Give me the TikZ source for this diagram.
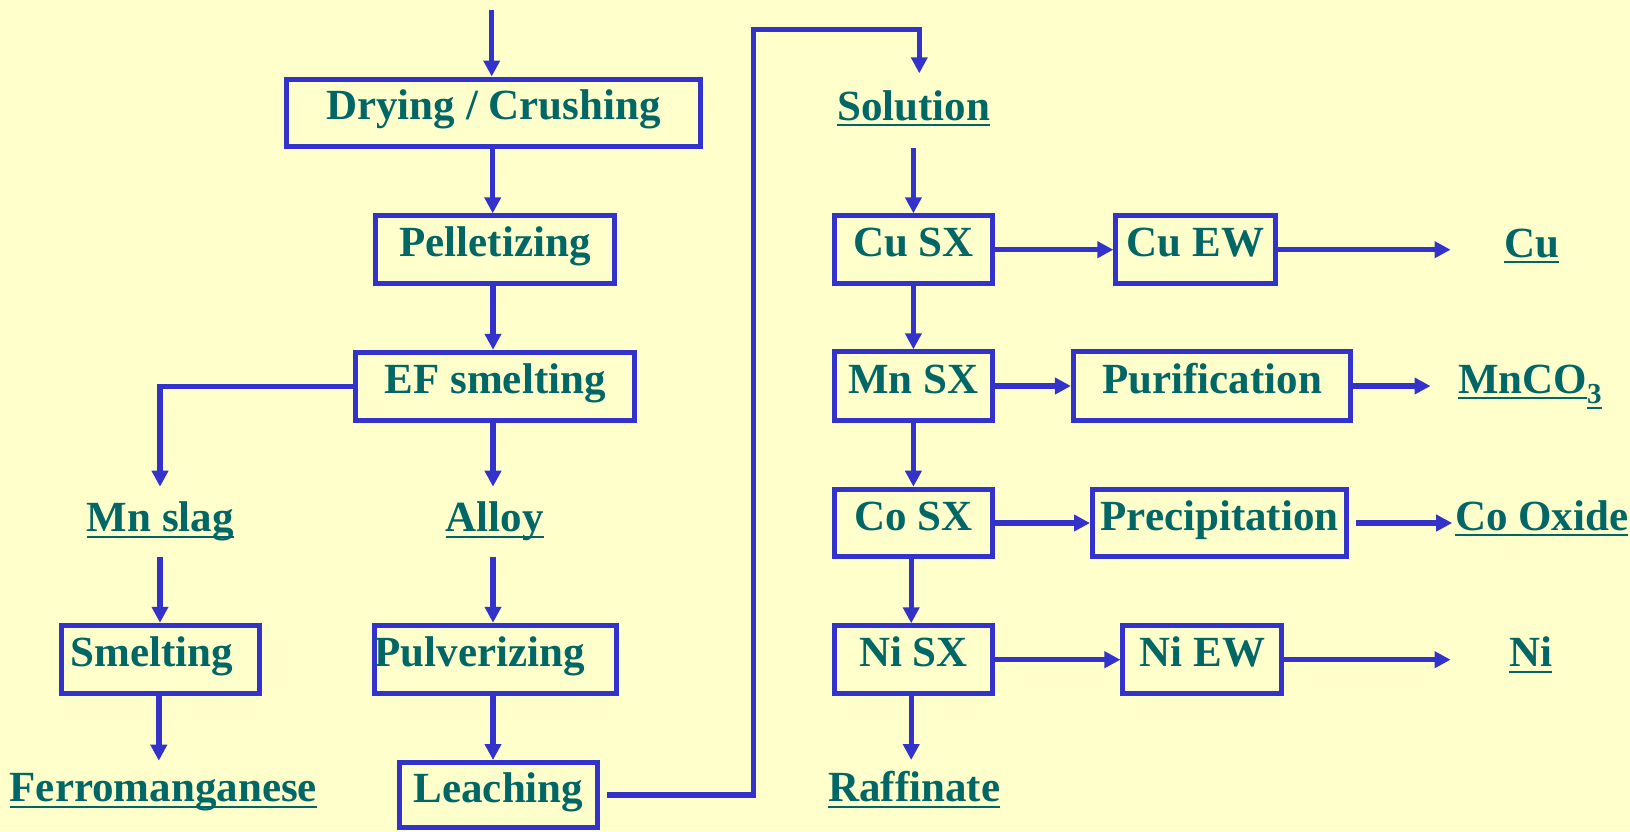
\documentclass[tikz,border=0pt]{standalone}
\usepackage{fontspec}
\setmainfont{Liberation Serif}
\usetikzlibrary{arrows.meta}
\definecolor{paper}{HTML}{FFFFCC}
\definecolor{flow}{HTML}{3333CC}
\definecolor{ink}{HTML}{006666}
% underline placed at a fixed distance under the baseline
\newcommand\ulbox[1]{\setbox0=\hbox{#1}\rlap{\rule[-6pt]{\wd0}{2.2pt}}\box0}
\tikzset{
  stepbox/.style={draw=flow, line width=5pt, inner sep=0pt, text=ink,
    font=\fontsize{43}{48}\selectfont\bfseries, text height=30pt, text depth=16pt,
    minimum height=67.8pt},
  product/.style={anchor=base, inner sep=0pt, text=ink,
    font=\fontsize{43}{48}\selectfont\bfseries},
  flowline/.style={draw=flow, line width=5.4pt},
  flowarrow/.style={flowline, -{Triangle[width=16pt,length=16pt]}},
}
\begin{document}
\begin{tikzpicture}[x=1pt, y=-1pt]
\fill[paper] (0,0) rectangle (1630,831);
\useasboundingbox (0,0) rectangle (1630,831);

% left branch: ore preparation and smelting
\node[stepbox, minimum width=413.7pt] (dry) at (493.6,112.9) {Drying / Crushing};
\node[stepbox, minimum width=238.4pt] (pel) at (495,249.7) {Pelletizing};
\node[stepbox, minimum width=279pt]   (ef)  at (495.2,386.2) {EF smelting};
\node[product] (slag)  at (160.4,531.7) {\ulbox{Mn slag}};
\node[product] (alloy) at (494.8,531.7) {\ulbox{Alloy}};
\node[stepbox, minimum width=198.1pt, minimum height=68.3pt] (sme) at (160.5,659.4) {Smelting\hspace*{17pt}};
\node[stepbox, minimum width=238pt, minimum height=68.3pt]   (pul) at (495.5,659.4) {Pulverizing\hspace*{32pt}};
\node[product] (ferro) at (163.3,801.7) {\ulbox{Ferromanganese}};
\node[stepbox, minimum width=198.5pt, minimum height=65pt] (lea) at (498.5,795) {Leaching};

% right branch: solvent extraction train
\node[product] (sol) at (913.8,120) {\ulbox{Solution}};
\node[stepbox, minimum width=158.7pt] (cusx) at (913.4,249.7) {Cu SX};
\node[stepbox, minimum width=159.2pt] (cuew) at (1195.5,249.7) {Cu EW};
\node[product] (cu) at (1531.6,257.3) {\ulbox{Cu}};
\node[stepbox, minimum width=158.7pt, minimum height=68.4pt] (mnsx) at (913.4,386) {Mn SX};
\node[stepbox, minimum width=277.5pt, minimum height=68.4pt] (pur) at (1212.2,386) {Purification};
\node[product, anchor=base west] (mnco) at (1458,393.3)
  {\ulbox{MnCO}\raisebox{-10pt}{\fontsize{29}{32}\selectfont\ulbox{3}}};
\node[stepbox, minimum width=158.7pt, minimum height=67.6pt] (cosx) at (913.4,523) {Co SX};
\node[stepbox, minimum width=254.2pt, minimum height=67.6pt] (pre) at (1219.6,523) {Precipitation};
\node[product] (coox) at (1541.7,530) {\ulbox{Co Oxide}};
\node[stepbox, minimum width=158.7pt] (nisx) at (913.4,659.7) {Ni SX};
\node[stepbox, minimum width=158.7pt] (niew) at (1202.3,659.7) {Ni EW};
\node[product] (ni) at (1530.8,666.7) {\ulbox{Ni}};
\node[product] (raff) at (914.2,801.7) {\ulbox{Raffinate}};

% free ends of the connectors
\coordinate (feed)     at (491.7,10);
\coordinate (slagin)   at (160,486.7);
\coordinate (slagout)  at (160,557.3);
\coordinate (alloyin)  at (493,486.7);
\coordinate (alloyout) at (493,557.3);
\coordinate (ferroin)  at (158.8,760.7);
\coordinate (riser)    at (753.3,29.3);
\coordinate (solin)    at (919.3,73.3);
\coordinate (solout)   at (913.4,147.7);
\coordinate (cuin)     at (1450.6,249.7);
\coordinate (mnin)     at (1430.5,386);
\coordinate (coin)     at (1452.2,523);
\coordinate (niin)     at (1450.6,659.7);
\coordinate (raffin)   at (911.2,760);

% connectors, left branch
\draw[flowarrow] (feed) -- (feed |- dry.north);
\draw[flowarrow] (492.7,0 |- dry.south) -- (492.7,0 |- pel.north);
\draw[flowarrow] (493,0 |- pel.south) -- (493,0 |- ef.north);
\draw[flowarrow] (ef.west) -| (slagin);
\draw[flowarrow] (alloyin |- ef.south) -- (alloyin);
\draw[flowarrow] (slagout) -- (slagout |- sme.north);
\draw[flowarrow] (alloyout) -- (alloyout |- pul.north);
\draw[flowarrow] (ferroin |- sme.south) -- (ferroin);
\draw[flowarrow] (493,0 |- pul.south) -- (493,0 |- lea.north);
\draw[flowarrow, shorten <=6.5pt] (lea.east) -| (riser) -| (solin);

% connectors, right branch
\draw[flowarrow] (solout) -- (solout |- cusx.north);
\draw[flowarrow] (cusx.east) -- (cuew.west);
\draw[flowarrow] (cuew.east) -- (cuin);
\draw[flowarrow] (cusx.south) -- (mnsx.north);
\draw[flowarrow] (mnsx.east) -- (pur.west);
\draw[flowarrow] (pur.east) -- (mnin);
\draw[flowarrow] (mnsx.south) -- (cosx.north);
\draw[flowarrow] (cosx.east) -- (pre.west);
\draw[flowarrow, shorten <=7pt] (pre.east) -- (coin);
\draw[flowarrow] (911.2,0 |- cosx.south) -- (911.2,0 |- nisx.north);
\draw[flowarrow] (nisx.east) -- (niew.west);
\draw[flowarrow] (niew.east) -- (niin);
\draw[flowarrow] (raffin |- nisx.south) -- (raffin);
\end{tikzpicture}
\end{document}
